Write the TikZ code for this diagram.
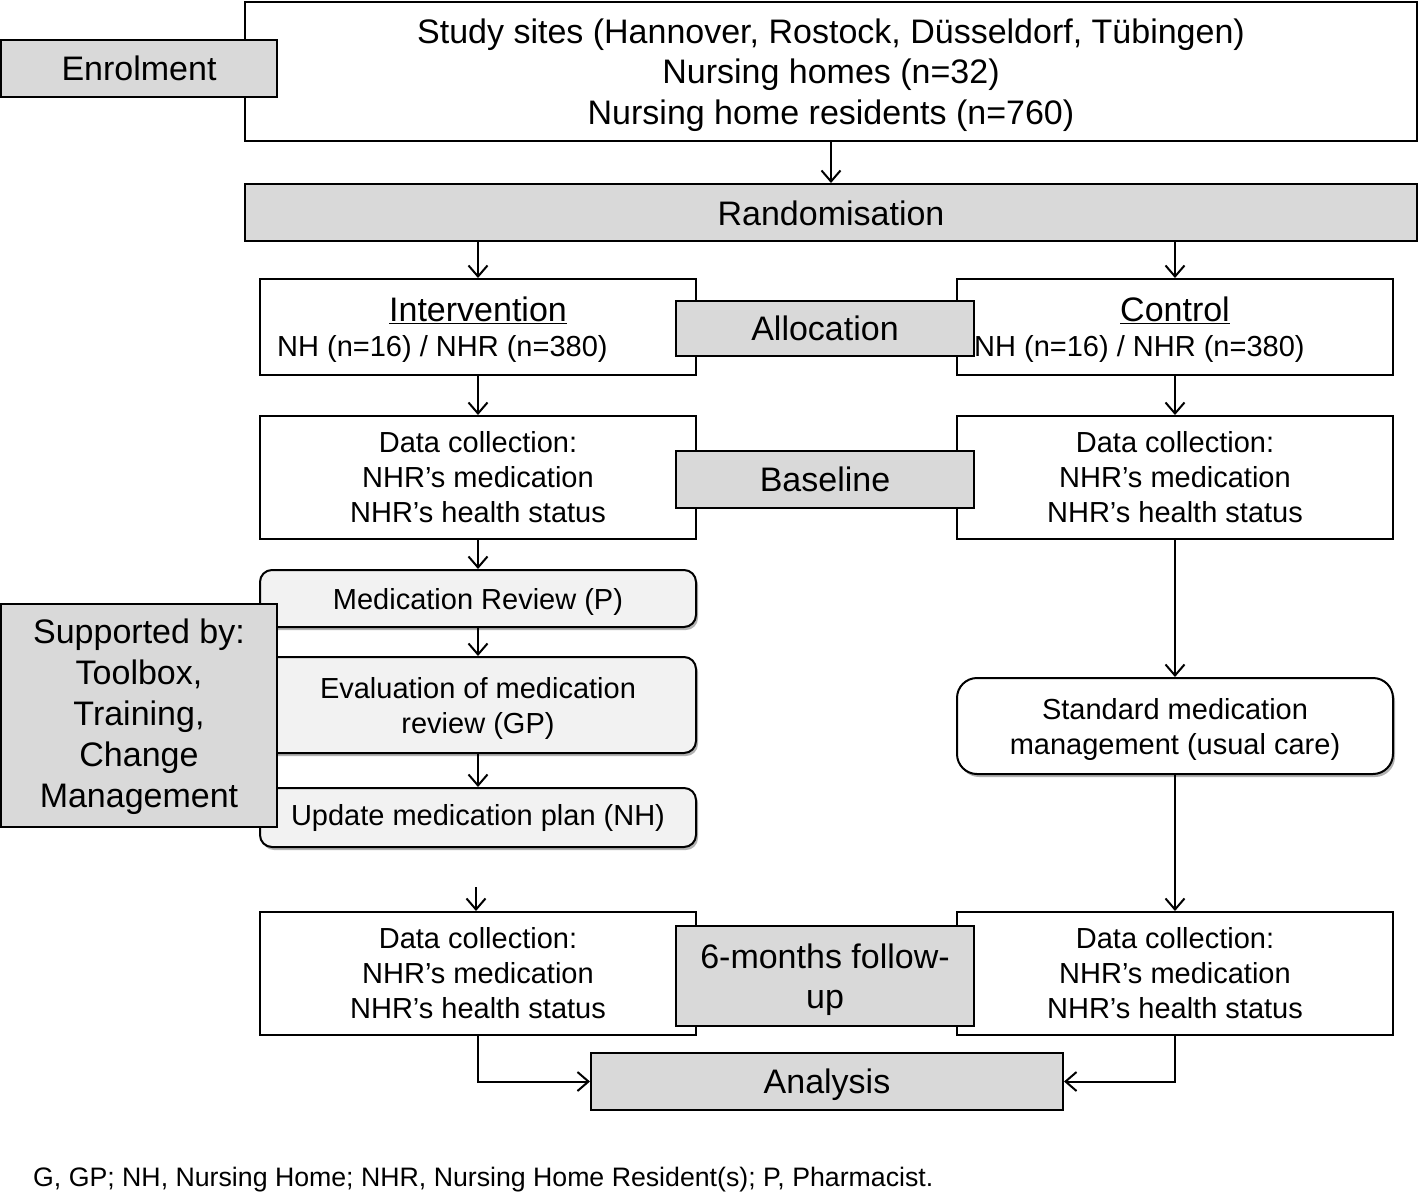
\documentclass[tikz,border=0pt]{standalone}
\usepackage{fontspec}
\setmainfont{Liberation Sans}
\usetikzlibrary{arrows.meta,shadows}
\definecolor{boxgray}{RGB}{217,217,217}
\definecolor{lightbox}{RGB}{242,242,242}
\newcommand\bigtxt{\fontsize{34}{40.5}\selectfont}
\newcommand\bigtxtb{\fontsize{34}{41}\selectfont}
\newcommand\smalltxt{\fontsize{29}{35}\selectfont}
\newcommand\foottxt{\fontsize{26.7}{32}\selectfont}
\begin{document}
\begin{tikzpicture}[x=1pt,y=-1pt,
  base/.style={draw, line width=2pt, inner sep=0pt, align=center},
  graybox/.style={base, fill=boxgray, font=\bigtxt},
  whitebox/.style={base, fill=white, font=\smalltxt},
  roundbox/.style={base, fill=lightbox, font=\smalltxt, rounded corners=12pt, minimum width=436pt,
    drop shadow={shadow xshift=2pt, shadow yshift=-3pt, opacity=0.3, fill=black}},
  arr/.style={line width=2pt, -{Straight Barb[length=11pt,width=19pt]}},
  lbl/.style={inner sep=0pt}]
\useasboundingbox (0,0) rectangle (1419,1195);

% Enrolment
\node[whitebox, font=\bigtxt, text depth=0pt, minimum width=1172pt, minimum height=139pt] (study) at (831,71.5)
  {Study sites (Hannover, Rostock, Düsseldorf, Tübingen)\\Nursing homes (n=32)\\Nursing home residents (n=760)};
\node[graybox, minimum width=276pt, minimum height=57pt] (enrol) at (139,68.5) {Enrolment};

% Randomisation
\node[graybox, text height=27pt, minimum width=1172pt, minimum height=57pt] (rand) at (831,212.5) {Randomisation};

% Allocation
\node[whitebox, minimum width=436pt, minimum height=96pt] (interv) at (478,327) {};
\node[whitebox, minimum width=436pt, minimum height=96pt] (ctrl) at (1175,327) {};
\node[graybox, minimum width=298pt, minimum height=55pt] (alloc) at (825,328.5) {Allocation};
\node[lbl, font=\bigtxt, anchor=base] (intervT) at (478,321) {\underline{Intervention}};
\node[lbl, font=\smalltxt, anchor=base west] (intervN) at (277,356) {NH (n=16) / NHR (n=380)};
\node[lbl, font=\bigtxt, anchor=base] (ctrlT) at (1175,321) {\underline{Control}};
\node[lbl, font=\smalltxt, anchor=base west] (ctrlN) at (974,356) {NH (n=16) / NHR (n=380)};

% Baseline
\node[whitebox, minimum width=436pt, minimum height=123pt] (dcL) at (478,477.5)
  {Data collection:\\NHR’s medication\\NHR’s health status};
\node[whitebox, minimum width=436pt, minimum height=123pt] (dcR) at (1175,477.5)
  {Data collection:\\NHR’s medication\\NHR’s health status};
\node[graybox, minimum width=298pt, minimum height=57pt] (basel) at (825,479.5) {Baseline};

% Intervention steps
\node[roundbox, text height=27pt, minimum height=57pt] (medrev) at (478,598.5) {Medication Review (P)};
\node[roundbox, text depth=0pt, minimum height=96pt] (eval) at (478,705) {Evaluation of medication\\review (GP)};
\node[roundbox, minimum height=59pt] (update) at (478,817.5) {Update medication plan (NH)};
\node[graybox, font=\bigtxtb, text depth=4pt, minimum width=276pt, minimum height=223pt] (supp) at (139,715.5)
  {Supported by:\\Toolbox,\\Training,\\Change\\Management};

% Usual care
\node[roundbox, fill=white, rounded corners=20pt, text depth=0pt, minimum height=96pt] (std) at (1175,726)
  {Standard medication\\management (usual care)};

% Follow-up
\node[whitebox, minimum width=436pt, minimum height=123pt] (fuL) at (478,973.5)
  {Data collection:\\NHR’s medication\\NHR’s health status};
\node[whitebox, minimum width=436pt, minimum height=123pt] (fuR) at (1175,973.5)
  {Data collection:\\NHR’s medication\\NHR’s health status};
\node[graybox, text depth=-3pt, minimum width=298pt, minimum height=100pt] (six) at (825,976) {6-months follow-\\up};

% Analysis
\node[graybox, text height=31pt, minimum width=472pt, minimum height=57pt] (ana) at (827,1081.5) {Analysis};

% Footnote
\node[lbl, font=\foottxt, anchor=west] (foot) at (33,1180)
  {G, GP; NH, Nursing Home; NHR, Nursing Home Resident(s); P, Pharmacist.};

% Connectors
\draw[arr] (study.south) -- (rand.north);
\draw[arr] (rand.south -| interv.north) -- (interv.north);
\draw[arr] (rand.south -| ctrl.north) -- (ctrl.north);
\draw[arr] (interv.south) -- (dcL.north);
\draw[arr] (ctrl.south) -- (dcR.north);
\draw[arr] (dcL.south) -- (medrev.north);
\draw[arr] (medrev.south) -- (eval.north);
\draw[arr] (eval.south) -- (update.north);
\draw[arr] (dcR.south) -- (std.north);
\draw[arr] (std.south) -- (fuR.north);
\coordinate (fustart) at (476,887);
\draw[arr] (fustart) -- (fustart |- fuL.north);
\draw[arr] (fuL.south) |- (ana.west);
\draw[arr] (fuR.south) |- (ana.east);
\end{tikzpicture}
\end{document}
